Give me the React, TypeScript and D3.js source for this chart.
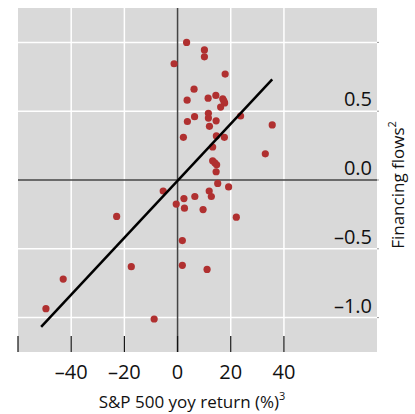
import { useEffect, useRef } from 'react';
import * as d3 from 'd3';

// S&P 500 yoy return (%) vs financing flows
const returnsX = [
    3.4, 10.1, 10.1, -1.3, 17.9, 6.2, 3.6, 11.5, 14.4, 17.0,
    17.7, 16.2, 17.4, 23.7, 3.7, 6.4, 11.6, 11.6, 14.5, 12.0,
    35.6, 2.2, 14.6, 17.6, 13.2, 33.0, 13.2, 14.0, 14.7, 14.5,
    15.1, 19.2, -5.4, 11.9, 12.7, 6.5, 2.4, -0.5, 2.6, 9.6,
    22.1, 1.8, 1.8, 11.1, -22.9, -17.4, -43.0, -49.5, -8.8,
];
const flowsY = [
    1.0, 0.945, 0.895, 0.845, 0.77, 0.66, 0.58, 0.595, 0.615, 0.59,
    0.56, 0.53, 0.575, 0.465, 0.425, 0.46, 0.485, 0.45, 0.43, 0.39,
    0.4, 0.31, 0.32, 0.31, 0.24, 0.19, 0.14, 0.125, 0.11, 0.06,
    -0.025, -0.05, -0.08, -0.08, -0.12, -0.12, -0.135, -0.175, -0.205, -0.215,
    -0.27, -0.44, -0.62, -0.65, -0.265, -0.63, -0.72, -0.935, -1.01,
];

// fitted line endpoints
const fitX = [-51.3, 35.6];
const fitY = [-1.068, 0.732];

const xTicks = [-60, -40, -20, 0, 20, 40];
const xLabels = [-40, -20, 0, 20, 40];
const yGrid = [-1, -0.5, 0, 0.5, 1];
const yLabels = [-1, -0.5, 0, 0.5];

const COLORS = {
    panel: '#d9d9d9',
    grid: '#ffffff',
    zero: '#444444',
    dot: '#b03030',
    text: '#111111',
};

const FONT = '"Open Sans", "Noto Sans", sans-serif';
const fmt = (d: number) => (d < 0 ? '\u2013' : '') + Math.abs(d).toString();

export default function App() {
    const svgRef = useRef<SVGSVGElement>(null);

    useEffect(() => {
        if (!svgRef.current) return;
        const svg = d3.select(svgRef.current);
        svg.selectAll('*').remove();

        const left = 18, right = 377, top = 8, bottom = 352;
        const x = d3.scaleLinear().domain([-60, 75]).range([left, right]);
        const y = d3.scaleLinear().domain([-1.25, 1.25]).range([bottom, top]);

        svg.append('rect')
            .attr('x', left).attr('y', top)
            .attr('width', right - left).attr('height', bottom - top)
            .attr('fill', COLORS.panel);

        // grid
        svg.append('g').selectAll('line')
            .data(xTicks.filter(d => d !== 0 && d !== -60))
            .join('line')
            .attr('x1', d => x(d)).attr('x2', d => x(d))
            .attr('y1', top).attr('y2', bottom)
            .attr('stroke', COLORS.grid).attr('stroke-width', 1.5);

        svg.append('g').selectAll('line')
            .data(yGrid.filter(d => d !== 0))
            .join('line')
            .attr('x1', left).attr('x2', right)
            .attr('y1', d => y(d)).attr('y2', d => y(d))
            .attr('stroke', COLORS.grid).attr('stroke-width', 1.5);

        // small edge ticks
        svg.append('g').selectAll('line')
            .data(yGrid)
            .join('line')
            .attr('x1', right).attr('x2', right + 2)
            .attr('y1', d => y(d)).attr('y2', d => y(d))
            .attr('stroke', '#999').attr('stroke-width', 1);

        // zero lines
        svg.append('line')
            .attr('x1', x(0)).attr('x2', x(0))
            .attr('y1', top).attr('y2', bottom)
            .attr('stroke', COLORS.zero).attr('stroke-width', 1.5);
        svg.append('line')
            .attr('x1', left).attr('x2', right)
            .attr('y1', y(0)).attr('y2', y(0))
            .attr('stroke', COLORS.zero).attr('stroke-width', 1.5);

        // bottom inside ticks
        svg.append('g').selectAll('line')
            .data(xTicks)
            .join('line')
            .attr('x1', d => x(d)).attr('x2', d => x(d))
            .attr('y1', bottom - 16).attr('y2', bottom)
            .attr('stroke', '#111').attr('stroke-width', 1.2);

        // points
        const pts = returnsX.map((v, i) => ({ x: v, y: flowsY[i] }));
        svg.append('g').selectAll('circle')
            .data(pts)
            .join('circle')
            .attr('cx', d => x(d.x)).attr('cy', d => y(d.y))
            .attr('r', 3.6)
            .attr('fill', COLORS.dot);

        // fit line
        const line = d3.line<number>()
            .x(d => x(d))
            .y((_, i) => y(fitY[i]));
        svg.append('path')
            .datum(fitX)
            .attr('d', line)
            .attr('fill', 'none')
            .attr('stroke', '#000')
            .attr('stroke-width', 2.5);

        // y labels (inside, right)
        svg.append('g').selectAll('text')
            .data(yLabels)
            .join('text')
            .attr('x', right - 5).attr('y', d => y(d) - 5)
            .attr('text-anchor', 'end')
            .style('font-family', FONT).style('font-size', '20px')
            .style('fill', COLORS.text)
            .text(d => fmt(d) + (Number.isInteger(d) ? '.0' : ''));

        // x labels
        svg.append('g').selectAll('text')
            .data(xLabels)
            .join('text')
            .attr('x', d => x(d)).attr('y', 379)
            .attr('text-anchor', 'middle')
            .style('font-family', FONT).style('font-size', '20px')
            .style('fill', COLORS.text)
            .text(d => fmt(d));

        // x title
        const xt = svg.append('text')
            .attr('x', 192).attr('y', 408)
            .attr('text-anchor', 'middle')
            .style('font-family', FONT).style('font-size', '17px')
            .style('fill', COLORS.text);
        xt.append('tspan').text('S&P 500 yoy return (%)');
        xt.append('tspan').attr('dy', -8).style('font-size', '11px').text('3');

        // y title
        const yt = svg.append('text')
            .attr('transform', `translate(404,185) rotate(-90)`)
            .attr('text-anchor', 'middle')
            .style('font-family', FONT).style('font-size', '17px')
            .style('fill', COLORS.text);
        yt.append('tspan').text('Financing flows');
        yt.append('tspan').attr('dy', -8).style('font-size', '11px').text('2');
    }, []);

    return (
        <svg ref={svgRef} width={415} height={414}
            style={{ position: 'absolute', left: 0, top: 0, background: '#fff' }} />
    );
}
